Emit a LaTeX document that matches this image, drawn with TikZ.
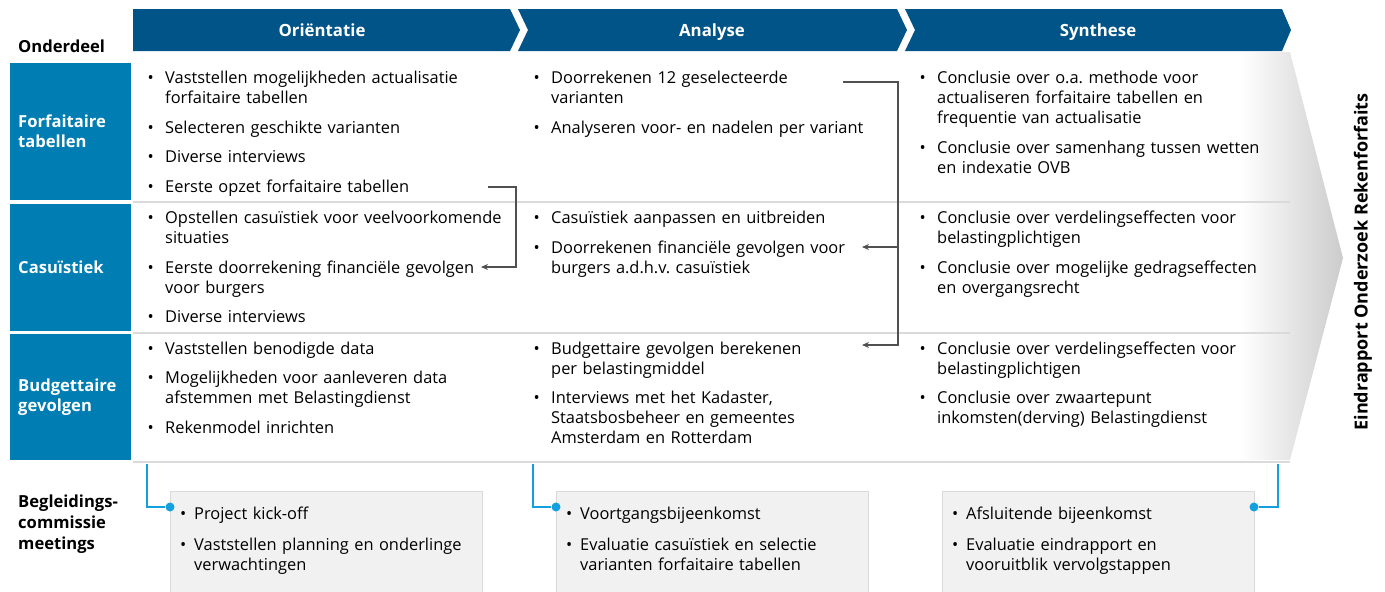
\documentclass[tikz,border=0pt]{standalone}
\usepackage{fontspec}
\setmainfont{Open Sans}
\usetikzlibrary{positioning,arrows.meta}
\definecolor{kopblauw}{RGB}{0,84,135}
\definecolor{rijblauw}{RGB}{0,125,178}
\definecolor{lijngrijs}{RGB}{218,218,218}
\definecolor{pijlgrijs}{RGB}{80,80,80}
\definecolor{lichtblauw}{RGB}{20,160,222}
\definecolor{vakgrijs}{RGB}{241,241,241}
\frenchspacing
\newcommand{\bol}{\noindent\llap{\textbullet\hspace{11.5pt}}}
\newcommand{\klbol}{\noindent\llap{\textbullet\hspace{8pt}}}
\tikzset{
  kop/.style={fill=kopblauw},
  koptekst/.style={text=white, anchor=base, font=\bfseries\fontsize{16.8}{18}\selectfont},
  rij/.style={fill=rijblauw, anchor=north west, minimum width=121pt, inner sep=0pt},
  rijtekst/.style={text=white, font=\bfseries\fontsize{16.6}{20}\selectfont, align=left, inner sep=0pt},
  punt/.style={anchor=base west, inner sep=0pt, text width=#1, align=left,
    font=\fontsize{16.4}{20}\selectfont},
  punt/.default=370pt,
  scheiding/.style={draw=lijngrijs, line width=1.6pt},
  pijl/.style={draw=pijlgrijs, line width=1.1pt, -{Stealth[length=7pt,width=6pt]}},
  vak/.style={fill=vakgrijs, draw=lijngrijs, anchor=north west, minimum width=312pt,
    minimum height=110pt, inner sep=0pt},
  blauwlijn/.style={draw=lichtblauw, line width=1.1pt},
  stip/.style={circle, fill=lichtblauw, inner sep=0pt, minimum size=9pt},
  zijtekst/.style={font=\bfseries\fontsize{16.6}{21}\selectfont, align=left, inner sep=0pt}
}
\begin{document}
\begin{tikzpicture}[x=1pt,y=-1pt]
\useasboundingbox (0,0) rectangle (1385,592);
% grijze pijl achter de tabel
\shade[left color=white, right color=black!20] (1240,52) -- (1290,52) -- (1343,258) -- (1290,460) -- (1240,460) -- cycle;

% kop met fasen
\fill[kop] (133,9) -- (510,9) -- (520,30) -- (510,51) -- (133,51) -- cycle;
\fill[kop] (518,9) -- (897,9) -- (907,30) -- (897,51) -- (518,51) -- (528,30) -- cycle;
\fill[kop] (905,9) -- (1282,9) -- (1291,30) -- (1282,51) -- (905,51) -- (915,30) -- cycle;
\node[koptekst] (f1) at (322,36) {Oriëntatie};
\node[koptekst] (f2) at (712,36) {Analyse};
\node[koptekst] (f3) at (1098,36) {Synthese};
\node[zijtekst, anchor=west] (onderdeel) at (18,46) {Onderdeel};

% onderdelen
\node[rij, minimum height=137pt] (r1) at (10,63) {};
\node[rij, minimum height=127pt] (r2) at (10,204) {};
\node[rij, minimum height=126pt] (r3) at (10,334) {};
\node[rijtekst, right=8pt of r1.west] (t1) {Forfaitaire\\tabellen};
\node[rijtekst, right=8pt of r2.west] (t2) {Casuïstiek};
\node[rijtekst, right=8pt of r3.west] (t3) {Budgettaire\\gevolgen};

\draw[scheiding] (133,202) -- (1290,202);
\draw[scheiding] (133,333) -- (1290,333);
\draw[scheiding] (133,462) -- (1290,462);

% forfaitaire tabellen
\node[punt] (a1) at (165,83) {\bol Vaststellen mogelijkheden actualisatie\\forfaitaire tabellen};
\node[punt] (a2) at (165,133) {\bol Selecteren geschikte varianten};
\node[punt] (a3) at (165,162) {\bol Diverse interviews};
\node[punt] (a4) at (165,192) {\bol Eerste opzet forfaitaire tabellen};
\node[punt] (a5) at (551,83) {\bol Doorrekenen 12 geselecteerde\\varianten};
\node[punt] (a6) at (551,133) {\bol Analyseren voor- en nadelen per variant};
\node[punt=350pt] (a7) at (937,83) {\bol Conclusie over o.a. methode voor\\actualiseren forfaitaire tabellen en\\frequentie van actualisatie};
\node[punt=350pt] (a8) at (937,153) {\bol Conclusie over samenhang tussen wetten\\en indexatie OVB};

% casuistiek
\node[punt] (b1) at (165,223) {\bol Opstellen casuïstiek voor veelvoorkomende\\situaties};
\node[punt] (b2) at (165,273) {\bol Eerste doorrekening financiële gevolgen\\voor burgers};
\node[punt] (b3) at (165,322) {\bol Diverse interviews};
\node[punt] (b4) at (551,223) {\bol Casuïstiek aanpassen en uitbreiden};
\node[punt] (b5) at (551,253) {\bol Doorrekenen financiële gevolgen voor\\burgers a.d.h.v. casuïstiek};
\node[punt=350pt] (b6) at (937,223) {\bol Conclusie over verdelingseffecten voor\\belastingplichtigen};
\node[punt=350pt] (b7) at (937,273) {\bol Conclusie over mogelijke gedragseffecten\\en overgangsrecht};

% budgettaire gevolgen
\node[punt] (c1) at (165,354) {\bol Vaststellen benodigde data};
\node[punt] (c2) at (165,383) {\bol Mogelijkheden voor aanleveren data\\afstemmen met Belastingdienst};
\node[punt] (c3) at (165,433) {\bol Rekenmodel inrichten};
\node[punt] (c4) at (551,354) {\bol Budgettaire gevolgen berekenen\\per belastingmiddel};
\node[punt] (c5) at (551,403) {\bol Interviews met het Kadaster,\\Staatsbosbeheer en gemeentes\\Amsterdam en Rotterdam};
\node[punt=350pt] (c6) at (937,354) {\bol Conclusie over verdelingseffecten voor\\belastingplichtigen};
\node[punt=350pt] (c7) at (937,403) {\bol Conclusie over zwaartepunt\\inkomsten(derving) Belastingdienst};

% verbindingen
\coordinate (p1) at (488,187);
\coordinate (p2) at (481,267);
\coordinate (q1) at (843,82);
\coordinate (q2) at (862,247);
\coordinate (q3) at (862,345);
\draw[pijl] (p1) -| (516,227) |- (p2);
\draw[pijl] (q1) -| (898,300) |- (q3);
\draw[pijl] (898,247) -- (q2);

\node[rotate=90, font=\bfseries\fontsize{18}{20}\selectfont] (eind) at (1363,262) {Eindrapport Onderzoek Rekenforfaits};

% begeleidingscommissie
\node[zijtekst, anchor=north west] (bc) at (18,495) {Begleidings-\\commissie\\meetings};
\node[vak] (m1) at (170,491) {};
\node[vak] (m2) at (556,491) {};
\node[vak] (m3) at (942,491) {};
\node[punt=290pt] (m1a) at (194,519) {\klbol Project kick-off};
\node[punt=290pt] (m1b) at (194,550) {\klbol Vaststellen planning en onderlinge\\verwachtingen};
\node[punt=290pt] (m2a) at (580,519) {\klbol Voortgangsbijeenkomst};
\node[punt=290pt] (m2b) at (580,550) {\klbol Evaluatie casuïstiek en selectie\\varianten forfaitaire tabellen};
\node[punt=290pt] (m3a) at (966,519) {\klbol Afsluitende bijeenkomst};
\node[punt=290pt] (m3b) at (966,550) {\klbol Evaluatie eindrapport en\\vooruitblik vervolgstappen};

\node[stip] (d1) at (170,507) {};
\node[stip] (d2) at (556,507) {};
\node[stip] (d3) at (1254,507) {};
\coordinate (e1) at (147,464);
\coordinate (e2) at (533,464);
\coordinate (e3) at (1278,464);
\draw[blauwlijn] (e1) |- (d1);
\draw[blauwlijn] (e2) |- (d2);
\draw[blauwlijn] (e3) |- (d3);
\end{tikzpicture}
\end{document}
